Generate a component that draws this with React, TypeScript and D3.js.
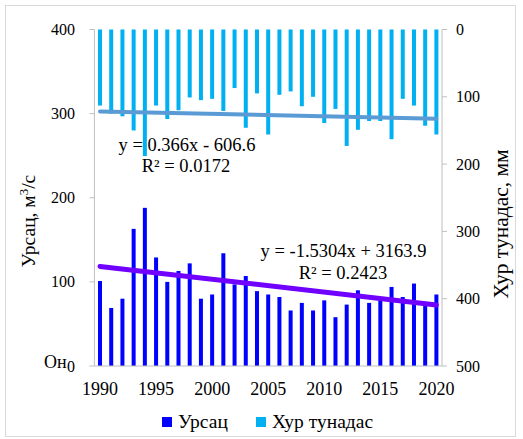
import React from 'react';
import * as d3 from 'd3';

const years = [1990, 1991, 1992, 1993, 1994, 1995, 1996, 1997, 1998, 1999, 2000, 2001, 2002, 2003, 2004, 2005, 2006, 2007, 2008, 2009, 2010, 2011, 2012, 2013, 2014, 2015, 2016, 2017, 2018, 2019, 2020];
const discharge = [101, 69, 80, 163, 188, 129, 100, 113, 122, 80, 85, 134, 97, 107, 89, 85, 82, 66, 75, 66, 78, 58, 73, 90, 75, 78, 94, 82, 98, 75, 85];
const precip = [113, 125, 129, 150, 188, 113, 133, 120, 101, 105, 103, 121, 87, 146, 95, 156, 97, 92, 114, 100, 139, 118, 173, 149, 136, 136, 163, 103, 113, 143, 156];
const xTickYears = [1990, 1995, 2000, 2005, 2010, 2015, 2020];
const leftTicks = [0, 100, 200, 300, 400];
const rightTicks = [0, 100, 200, 300, 400, 500];
const dischargeTrend = { slope: -1.5304, intercept: 3163.9 };
const precipTrend = { slope: 0.366, intercept: -606.6 };
const dischargeLabel = ['y = -1.5304x + 3163.9', 'R² = 0.2423'];
const precipLabel = ['y = 0.366x - 606.6', 'R² = 0.0172'];
const seriesNames = ['Урсац', 'Хур тунадас'];

function T(props: any) {
  const { children, style, ...rest } = props;
  return (
    <text {...rest} fill="#000" style={{ fontFamily: "'Liberation Serif'", ...(style || {}) }}>{children}</text>
  );
}

export default function App() {
  const left = 94.4, right = 442, top = 29.5, bottom = 366;
  const x = d3.scaleBand<number>().domain(years).range([left, right]).padding(0);
  const cx = (yr: number) => (x(yr) as number) + x.bandwidth() / 2;
  const yL = d3.scaleLinear().domain([0, 400]).range([bottom, top]);
  const yR = d3.scaleLinear().domain([0, 500]).range([top, bottom]);
  const bw = 4;
  const axisColor = '#bfbfbf';
  const first = years[0], last = years[years.length - 1];
  const lineGen = d3.line<[number, number]>().x(d => d[0]).y(d => d[1]);
  const dTrend = lineGen([first, last].map(yr => [cx(yr), yL(dischargeTrend.slope * yr + dischargeTrend.intercept)]) as [number, number][]) || '';
  const pTrend = lineGen([first, last].map(yr => [cx(yr), yR(precipTrend.slope * yr + precipTrend.intercept)]) as [number, number][]) || '';

  return (
    <svg width={523} height={439} style={{ position: 'absolute', left: 0, top: 0, background: '#fff' }}>
      <style>{"text, tspan { font-family: 'Liberation Serif' !important; }"}</style>
      <rect x={0} y={0} width={523} height={439} fill="#fff" />
      <rect x={5.5} y={5.5} width={510} height={431} fill="none" stroke="#d9d9d9" strokeWidth={1} />

      <T x={187} y={151} fontSize={18.5} textAnchor="middle">{precipLabel[0]}</T>
      <T x={186} y={172} fontSize={18.5} textAnchor="middle">{precipLabel[1]}</T>
      <T x={343.5} y={257} fontSize={18.5} textAnchor="middle">{dischargeLabel[0]}</T>
      <T x={343} y={279} fontSize={18.5} textAnchor="middle">{dischargeLabel[1]}</T>

      {years.map((yr, i) => (
        <rect key={'p' + yr} x={cx(yr) - bw / 2} y={yR(0)} width={bw} height={yR(precip[i]) - yR(0)} fill="#00B0F0" />
      ))}
      {years.map((yr, i) => (
        <rect key={'d' + yr} x={cx(yr) - bw / 2} y={yL(discharge[i])} width={bw} height={yL(0) - yL(discharge[i])} fill="#0000FF" />
      ))}

      <path d={pTrend} stroke="#5B9BD5" strokeWidth={4} strokeLinecap="round" fill="none" />
      <path d={dTrend} stroke="#7000FF" strokeWidth={5} strokeLinecap="round" fill="none" />

      <line x1={left} x2={left} y1={top} y2={bottom} stroke={axisColor} />
      <line x1={right} x2={right} y1={top} y2={bottom} stroke={axisColor} />
      <line x1={left} x2={right} y1={bottom} y2={bottom} stroke={axisColor} />
      {leftTicks.map(t => (
        <g key={'lt' + t}>
          <line x1={left - 5} x2={left} y1={yL(t)} y2={yL(t)} stroke={axisColor} />
          <T x={75} y={yL(t) + 5.5} fontSize={16} textAnchor="end">{t}</T>
        </g>
      ))}
      {rightTicks.map(t => (
        <g key={'rt' + t}>
          <line x1={right} x2={right + 5} y1={yR(t)} y2={yR(t)} stroke={axisColor} />
          <T x={456} y={yR(t) + 5.5} fontSize={16} textAnchor="start">{t}</T>
        </g>
      ))}
      {xTickYears.map(yr => (
        <T key={'xt' + yr} x={cx(yr)} y={395} fontSize={18} textAnchor="middle">{yr}</T>
      ))}
      <T x={44} y={368} fontSize={18}>Он</T>

      <T transform="translate(35,221) rotate(-90)" fontSize={19.5} textAnchor="middle">
        Урсац, м<tspan dy={-7} fontSize={13}>3</tspan><tspan dy={7}>/с</tspan>
      </T>
      <T transform="translate(508,224) rotate(-90)" fontSize={21.5} textAnchor="middle">Хур тунадас, мм</T>

      <rect x={162} y={417} width={10} height={10} fill="#0000FF" />
      <T x={178} y={428} fontSize={19.5}>{seriesNames[0]}</T>
      <rect x={256} y={417} width={10} height={10} fill="#00B0F0" />
      <T x={272} y={428} fontSize={19.5}>{seriesNames[1]}</T>
    </svg>
  );
}
